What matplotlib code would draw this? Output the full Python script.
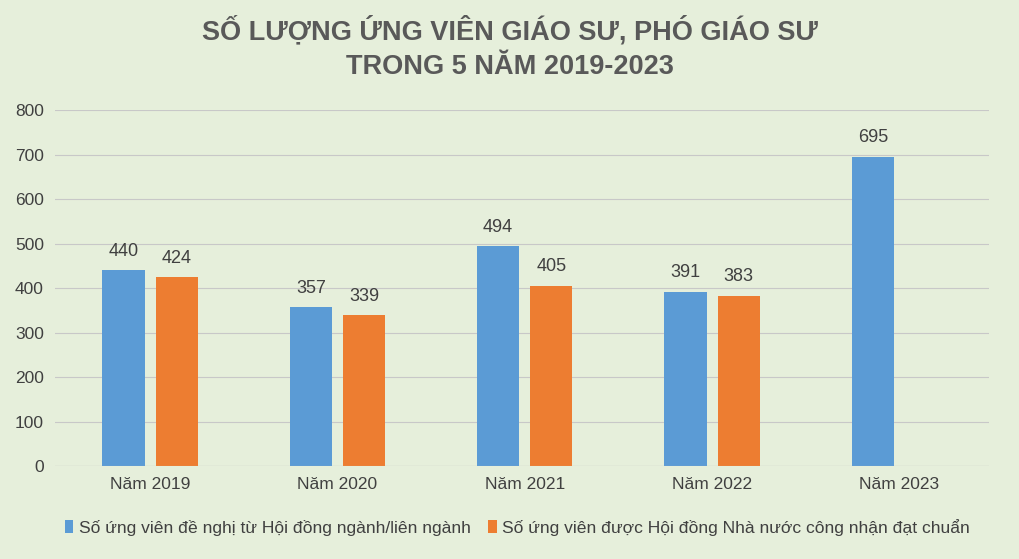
import numpy as np
import matplotlib.pyplot as plt

plt.rcParams['font.family'] = ['Liberation Sans', 'DejaVu Sans']

categories = ['Năm 2019', 'Năm 2020', 'Năm 2021', 'Năm 2022', 'Năm 2023']
de_nghi = [440, 357, 494, 391, 695]
dat_chuan = [424, 339, 405, 383, None]

bg = '#e6efdb'
fig = plt.figure(figsize=(10.2, 5.59), dpi=100, facecolor=bg)
ax = fig.add_axes([0.054, 0.166, 0.916, 0.637], facecolor=bg)

x = np.arange(len(categories))
w = 0.225
b1 = ax.bar(x - 0.142, de_nghi, w, color='#5b9bd5',
            label='Số ứng viên đề nghị từ Hội đồng ngành/liên ngành')
vals2 = [np.nan if v is None else v for v in dat_chuan]
b2 = ax.bar(x + 0.142, vals2, w, color='#ed7d31',
            label='Số ứng viên được Hội đồng Nhà nước công nhận đạt chuẩn')

for bars, vals in ((b1, de_nghi), (b2, dat_chuan)):
    for r, v in zip(bars, vals):
        if v is None:
            continue
        ax.text(r.get_x() + r.get_width() / 2, v + 24, str(v), ha='center',
                va='bottom', fontsize=13, color='#404040')

ax.set_xlim(-0.507, 4.48)
ax.set_ylim(0, 800)
ax.set_yticks(range(0, 801, 100))
ax.set_xticks(x)
ax.set_xticklabels(categories)
ax.tick_params(axis='both', length=0, labelsize=12.5, colors='#404040', pad=8)
ax.grid(axis='y', color='#c8c8c8', linewidth=0.8)
ax.set_axisbelow(True)
for s in ax.spines.values():
    s.set_visible(False)
ax.axhline(0, color='#bfbfbf', linewidth=0.8)

fig.text(0.5, 0.945, 'SỐ LƯỢNG ỨNG VIÊN GIÁO SƯ, PHÓ GIÁO SƯ', ha='center',
         va='center', fontsize=19.5, fontweight='bold', color='#595959')
fig.text(0.5, 0.88, 'TRONG 5 NĂM 2019-2023', ha='center', va='center',
         fontsize=19.5, fontweight='bold', color='#595959')

fig.legend(handles=[b1, b2], loc='center', bbox_to_anchor=(0.507, 0.057), ncol=2,
           frameon=False, fontsize=12.6, handlelength=0.5, handleheight=0.7,
           columnspacing=1.0, handletextpad=0.3, labelcolor='#404040')

fig.savefig('out.png', dpi=100, facecolor=bg)
